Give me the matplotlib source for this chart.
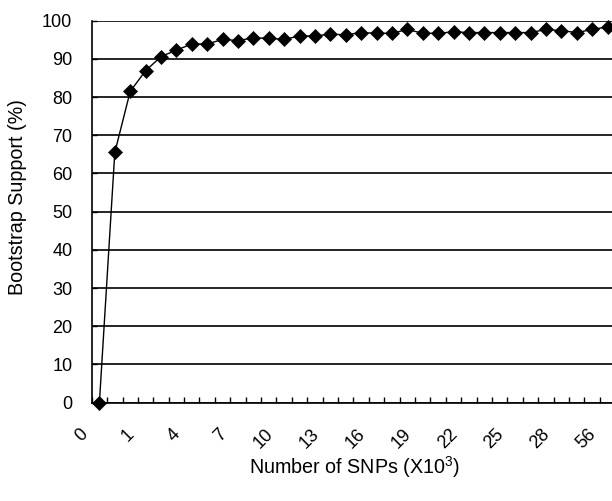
import matplotlib
matplotlib.use("Agg")
import matplotlib.pyplot as plt
from matplotlib.transforms import ScaledTranslation

plt.rcParams['font.family'] = ['Liberation Sans', 'DejaVu Sans']
plt.rcParams['mathtext.default'] = 'regular'

# Category labels (x 10^3 SNPs); only every third one is shown on the axis
categories = ["0", "0.25", "0.5", "1", "2", "3", "4", "5", "6", "7", "8", "9",
              "10", "11", "12", "13", "14", "15", "16", "17", "18", "19", "20",
              "21", "22", "23", "24", "25", "26", "27", "28", "30", "42", "56"]
support = [0, 65.5, 81.5, 86.9, 90.6, 92.3, 93.9, 93.9, 95.1, 94.8, 95.5, 95.4,
           95.1, 96.0, 96.0, 96.5, 96.3, 96.9, 96.7, 96.7, 97.7, 96.7, 96.7,
           97.1, 96.9, 96.9, 96.9, 96.9, 96.9, 97.7, 97.4, 96.9, 97.7, 98.4]
y_ticks = [0, 10, 20, 30, 40, 50, 60, 70, 80, 90, 100]

W, H = 612, 501
fig = plt.figure(figsize=(W / 100, H / 100), dpi=100)
left, right, top, bottom = 91.7, 615.3, 20.7, 402.7
ax = fig.add_axes([left / W, 1 - bottom / H, (right - left) / W, (bottom - top) / H])

x = list(range(len(categories)))
ax.plot(x, support, color='black', lw=1.0, marker='D', ms=7.2,
        mfc='black', mec='black', mew=0.5, clip_on=False, zorder=5)

ax.set_xlim(-0.5, len(categories) - 0.5)
ax.set_ylim(0, 100)

# gridlines
ax.set_yticks(y_ticks)
ax.yaxis.grid(True, color='black', lw=1.2)
ax.set_axisbelow(True)

for s in ['top', 'right']:
    ax.spines[s].set_visible(False)
for s in ['left', 'bottom']:
    ax.spines[s].set_color('black')
    ax.spines[s].set_linewidth(1.2)

ax.tick_params(axis='y', direction='in', length=3.5, width=1, labelsize=13, pad=14)

major = x[::3]
ax.set_xticks(major)
ax.set_xticklabels([categories[i] for i in major], rotation=45,
                   ha='right', va='center', rotation_mode='anchor', fontsize=13)
ax.set_xticks([i - 0.5 for i in range(len(categories) + 1)], minor=True)
ax.tick_params(axis='x', which='major', length=0, pad=21)
ax.tick_params(axis='x', which='minor', direction='in', length=4.3, width=1)
off = ScaledTranslation(-14 / 100, 0, fig.dpi_scale_trans)
for lab in ax.get_xticklabels():
    lab.set_transform(lab.get_transform() + off)

fig.text(355 / W, 1 - 467 / H, 'Number of SNPs (X10$^3$)',
         ha='center', va='center', fontsize=14.2)
fig.text(18 / W, 1 - 197 / H, 'Bootstrap Support (%)', rotation=90,
         ha='center', va='center', fontsize=14.2)

fig.savefig('out.png', dpi=100)
